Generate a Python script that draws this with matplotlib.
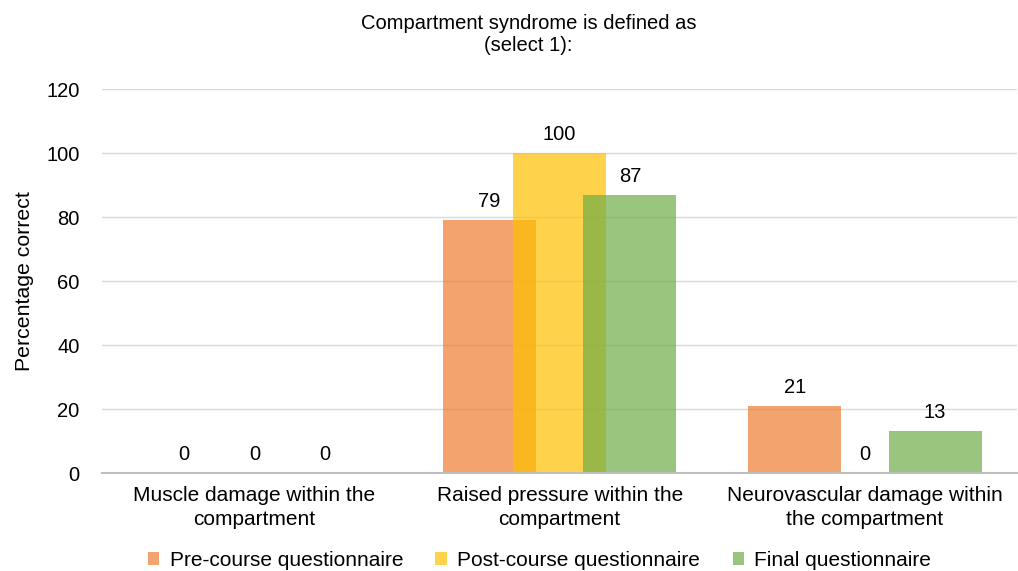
import numpy as np
import matplotlib.pyplot as plt

plt.rcParams['font.family'] = ['Liberation Sans', 'DejaVu Sans']

categories = ["Muscle damage within the\ncompartment",
              "Raised pressure within the\ncompartment",
              "Neurovascular damage within\nthe compartment"]
series_names = ["Pre-course questionnaire", "Post-course questionnaire", "Final questionnaire"]
pre_course = [0, 79, 21]
post_course = [0, 100, 0]
final = [0, 87, 13]

colors = ["#ED7D31", "#FFC000", "#70AD47"]

fig = plt.figure(figsize=(10.18, 5.71), dpi=100)
ax = fig.add_axes([0.1, 0.1716, 0.8995, 0.6725])

x = np.arange(len(categories))
width = 0.305
offset = 0.23

for i, (vals, name, c) in enumerate(zip([pre_course, post_course, final], series_names, colors)):
    pos = x + (i - 1) * offset
    ax.bar(pos, vals, width=width, color=c, alpha=0.7, label=name, zorder=2)
    for p, v in zip(pos, vals):
        ax.annotate(str(v), (p, v), xytext=(0, 6.5), textcoords="offset points",
                    ha="center", va="bottom", fontsize=14.5, color="#000000")

ax.set_xlim(-0.5, 2.5)
ax.set_ylim(0, 120)
ax.set_yticks(range(0, 121, 20))
ax.set_xticks(x)
ax.set_xticklabels(categories, fontsize=15, linespacing=1.35)
ax.tick_params(axis="y", labelsize=14.5, length=0, pad=16)
ax.tick_params(axis="x", length=0, pad=9)
ax.grid(axis="y", color="#D9D9D9", linewidth=1, zorder=0)
for s in ["top", "right", "left"]:
    ax.spines[s].set_visible(False)
ax.spines["bottom"].set_color("#BFBFBF")
ax.spines["bottom"].set_linewidth(1.5)
ax.set_ylabel("Percentage correct", fontsize=15.3, labelpad=9)

fig.text(0.519, 0.975, "Compartment syndrome is defined as\n(select 1):", ha="center", va="top",
         fontsize=14.5, linespacing=1.15)

handles, labels = ax.get_legend_handles_labels()
fig.legend(handles, labels, loc="center", bbox_to_anchor=(0.530, 0.019), ncol=3, frameon=False,
           fontsize=15, handlelength=0.55, handleheight=0.55, handletextpad=0.5, columnspacing=1.55,
           borderpad=0.2)

fig.savefig("out.png", dpi=100)
